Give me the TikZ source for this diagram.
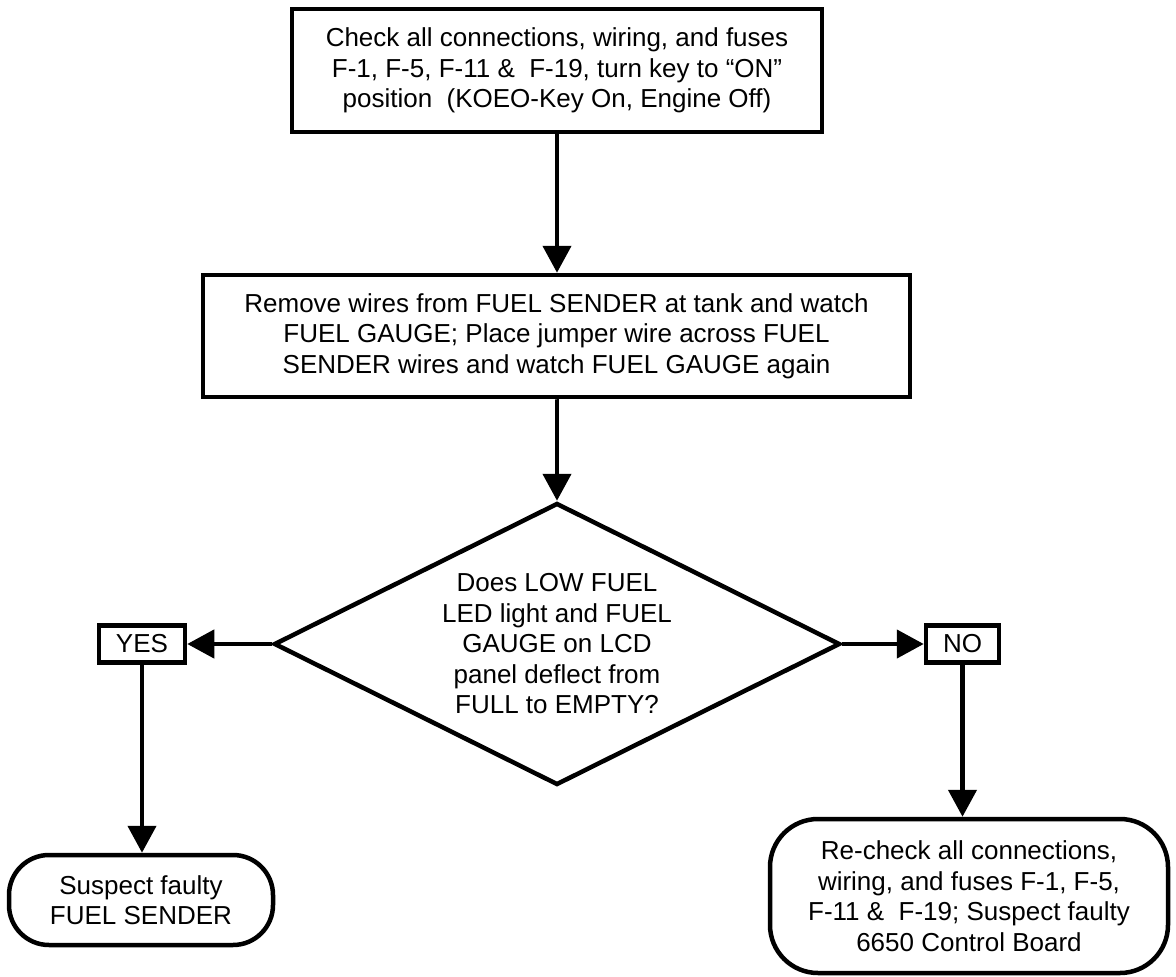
\documentclass[tikz,border=0pt]{standalone}
\usepackage{fontspec}
\setmainfont{Liberation Sans}
\usetikzlibrary{shapes.geometric,arrows.meta}
\begin{document}
\begin{tikzpicture}[x=1pt,y=-1pt,
  every node/.style={font=\fontsize{26}{30.5}\selectfont, align=center, inner sep=0pt},
  outline/.style={draw=black, line width=4.5pt},
  procbox/.style={outline, rectangle},
  answerbox/.style={outline, rectangle},
  decision/.style={outline, diamond, aspect=2},
  terminal/.style={outline, rectangle, rounded corners=#1},
  flow/.style={line width=4.5pt, -{Triangle[length=27pt,width=28pt]}},
]
\useasboundingbox (0,0) rectangle (1176,977);

% process steps
\node[procbox, minimum width=530pt, minimum height=123pt] (check) at (557,70.5)
  {Check all connections, wiring, and fuses\\F-1, F-5, F-11 \&\ \ F-19, turn key to “ON”\\position\ \ (KOEO-Key On, Engine Off)};
\node[procbox, minimum width=707pt, minimum height=122pt] (remove) at (556.5,336)
  {Remove wires from FUEL SENDER at tank and watch\\FUEL GAUGE; Place jumper wire across FUEL\\SENDER wires and watch FUEL GAUGE again};

% decision
\node[decision, minimum width=566pt, minimum height=282pt] (ask) at (557,644) {};
\node (asktext) at (ask.center)
  {Does LOW FUEL\\LED light and FUEL\\GAUGE on LCD\\panel deflect from\\FULL to EMPTY?};

% answers
\node[answerbox, minimum width=86pt, minimum height=37pt] (yes) at (142,644) {YES};
\node[answerbox, minimum width=73pt, minimum height=37pt] (no) at (962.5,644) {NO};

% outcomes
\node[terminal=40pt, minimum width=264pt, minimum height=90pt] (sender) at (141,900)
  {Suspect faulty\\FUEL SENDER};
\node[terminal=48pt, minimum width=398pt, minimum height=154pt] (recheck) at (969,896)
  {Re-check all connections,\\wiring, and fuses F-1, F-5,\\F-11 \&\ \ F-19; Suspect faulty\\6650 Control Board};

% connectors
\draw[flow] (check.south) -- (check.south |- remove.north);
\draw[flow] (remove.south) -- (remove.south -| ask.north) -- (ask.north);
\draw[flow] (ask.west) -- (yes.east);
\draw[flow] (ask.east) -- (no.west);
\draw[flow] (yes.south) -- (yes.south |- sender.north);
\draw[flow] (no.south) -- (no.south |- recheck.north);
\end{tikzpicture}
\end{document}
